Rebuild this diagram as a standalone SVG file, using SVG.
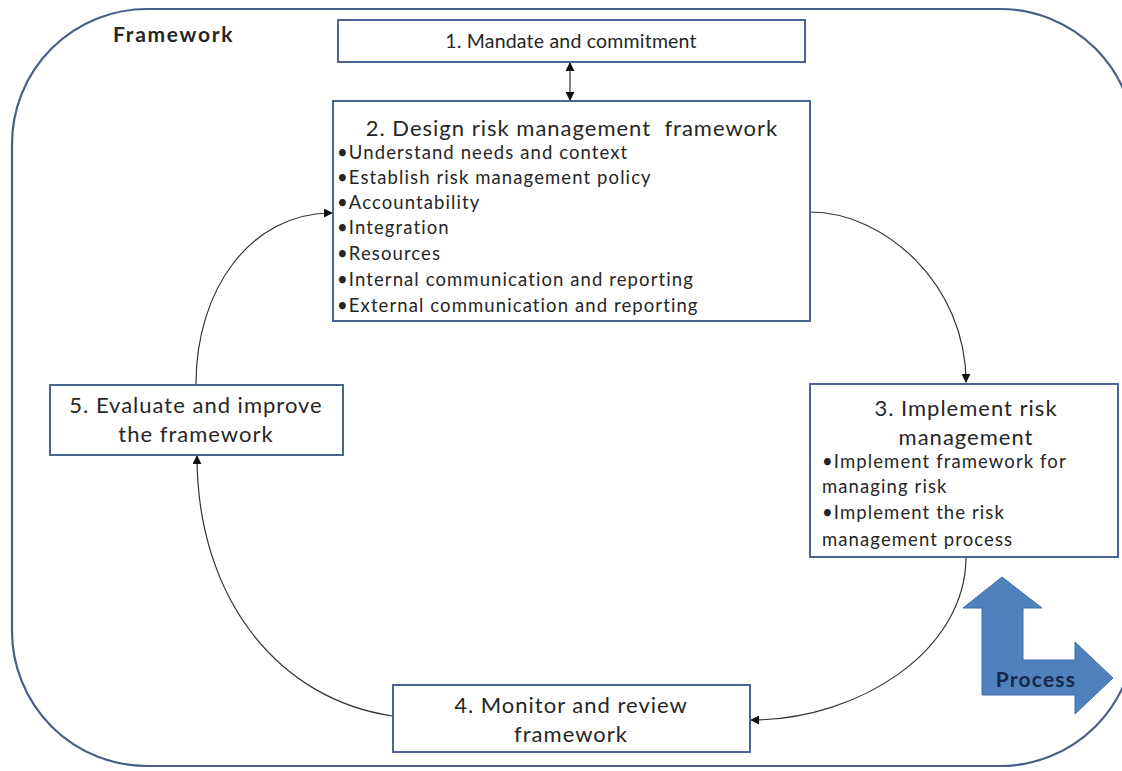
<svg xmlns="http://www.w3.org/2000/svg" width="1122" height="771" viewBox="0 0 1122 771">
  <defs>
    <marker id="arrow" viewBox="0 0 10 10" refX="9" refY="5" markerWidth="9" markerHeight="9" markerUnits="userSpaceOnUse" orient="auto-start-reverse">
      <path d="M0,0 L10,5 L0,10 Z" fill="#111"/>
    </marker>
    <style>
      .frame { fill: #ffffff; stroke: #4a5f86; stroke-width: 2.2; }
      .box { fill: #ffffff; stroke: #4a6591; stroke-width: 2; }
      .t { font-family: Lato, "Open Sans", "Liberation Sans", sans-serif; fill: #262626; }
      .title { font-size: 22px; text-anchor: middle; letter-spacing: 1px; }
      .item { font-size: 18.5px; letter-spacing: 1.1px; }
      .bold { font-weight: bold; }
      .link { fill: none; stroke: #333; stroke-width: 1.2; }
    </style>
  </defs>

  <rect width="1122" height="771" fill="#ffffff"/>

  <!-- outer framework boundary (right side runs past the canvas edge) -->
  <rect id="framework" class="frame" x="12" y="9" width="1123" height="757" rx="135" ry="135"/>
  <text class="t bold" x="113" y="42" font-size="21" letter-spacing="1.7">Framework</text>

  <g id="connectors">
    <line class="link" x1="570" y1="63" x2="570" y2="100" marker-start="url(#arrow)" marker-end="url(#arrow)"/>
    <path class="link" d="M810,212 C885,212 966,285 966,382" marker-end="url(#arrow)"/>
    <path class="link" d="M966,557 C966,650 860,720 751,720" marker-end="url(#arrow)"/>
    <path class="link" d="M393,716 C280,700 197,600 197,456" marker-end="url(#arrow)"/>
    <path class="link" d="M196,384 C196,290 250,213 332,213" marker-end="url(#arrow)"/>
  </g>

  <g id="node1">
    <rect class="box" x="338" y="20" width="467" height="42"/>
    <text class="t title" x="571" y="48" style="font-size:19.5px;letter-spacing:0.2px">1. Mandate and commitment</text>
  </g>

  <g id="node2">
    <rect class="box" x="333" y="101" width="477" height="220"/>
    <text class="t title" x="572" y="136">2. Design risk management&#160; framework</text>
    <text class="t item">
      <tspan x="337" y="159">•Understand needs and context</tspan>
      <tspan x="337" y="184">•Establish risk management policy</tspan>
      <tspan x="337" y="209">•Accountability</tspan>
      <tspan x="337" y="234">•Integration</tspan>
      <tspan x="337" y="260">•Resources</tspan>
      <tspan x="337" y="286">•Internal communication and reporting</tspan>
      <tspan x="337" y="312">•External communication and reporting</tspan>
    </text>
  </g>

  <g id="node3">
    <rect class="box" x="810" y="384" width="308" height="173"/>
    <text class="t title" x="966" y="416">3. Implement risk</text>
    <text class="t title" x="966" y="445">management</text>
    <text class="t item">
      <tspan x="822" y="468">•Implement framework for</tspan>
      <tspan x="822" y="493">managing risk</tspan>
      <tspan x="822" y="519">•Implement the risk</tspan>
      <tspan x="822" y="546">management process</tspan>
    </text>
  </g>

  <g id="node4">
    <rect class="box" x="393" y="685" width="357" height="67"/>
    <text class="t title" x="571" y="713">4. Monitor and review</text>
    <text class="t title" x="571" y="742">framework</text>
  </g>

  <g id="node5">
    <rect class="box" x="50" y="385" width="293" height="70"/>
    <text class="t title" x="196" y="413">5. Evaluate and improve</text>
    <text class="t title" x="196" y="442">the framework</text>
  </g>

  <g id="process">
    <polygon points="1002,577 1042,608 1023,608 1023,660 1075,660 1075,642 1113,678 1075,714 1075,695 982,695 982,608 963,608" fill="#4f81bd" stroke="#3f6fa8" stroke-width="1"/>
    <text class="t bold" x="1036" y="687" font-size="21" letter-spacing="1.2" text-anchor="middle" style="fill:#17284a">Process</text>
  </g>
</svg>
